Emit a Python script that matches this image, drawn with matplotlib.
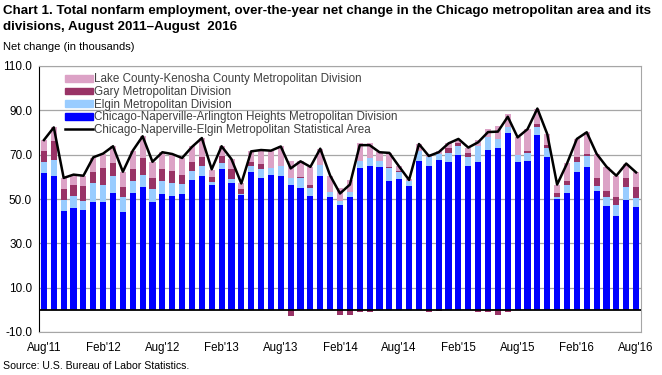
import matplotlib
matplotlib.use("Agg")
import matplotlib.pyplot as plt
import numpy as np
from matplotlib.patches import Patch
from matplotlib.lines import Line2D

plt.rcParams["font.family"] = ["Liberation Sans", "DejaVu Sans"]

# months Aug 2011 .. Aug 2016 (61 points)
months = ["Aug'11", "Sep'11", "Oct'11", "Nov'11", "Dec'11",
          "Jan'12", "Feb'12", "Mar'12", "Apr'12", "May'12", "Jun'12", "Jul'12",
          "Aug'12", "Sep'12", "Oct'12", "Nov'12", "Dec'12",
          "Jan'13", "Feb'13", "Mar'13", "Apr'13", "May'13", "Jun'13", "Jul'13",
          "Aug'13", "Sep'13", "Oct'13", "Nov'13", "Dec'13",
          "Jan'14", "Feb'14", "Mar'14", "Apr'14", "May'14", "Jun'14", "Jul'14",
          "Aug'14", "Sep'14", "Oct'14", "Nov'14", "Dec'14",
          "Jan'15", "Feb'15", "Mar'15", "Apr'15", "May'15", "Jun'15", "Jul'15",
          "Aug'15", "Sep'15", "Oct'15", "Nov'15", "Dec'15",
          "Jan'16", "Feb'16", "Mar'16", "Apr'16", "May'16", "Jun'16", "Jul'16",
          "Aug'16"]
tick_labels = ["Aug'11", "Feb'12", "Aug'12", "Feb'13", "Aug'13", "Feb'14",
               "Aug'14", "Feb'15", "Aug'15", "Feb'16", "Aug'16"]

chicago = [61.6, 60.5, 44.4, 45.8, 45.0, 48.5, 48.5, 52.6, 44.0, 52.6, 55.6, 48.8,
           52.3, 51.5, 52.2, 58.7, 60.5, 56.5, 63.5, 57.1, 51.7, 62.0, 59.3, 61.0,
           60.2, 56.3, 55.0, 51.2, 60.6, 51.1, 47.2, 51.1, 63.8, 64.7, 64.3, 58.0,
           59.2, 55.8, 67.3, 65.1, 67.7, 66.5, 70.0, 65.0, 66.8, 72.3, 72.9, 79.8,
           66.9, 67.3, 79.0, 68.8, 49.8, 52.9, 62.0, 64.3, 53.5, 47.0, 42.5, 49.7,
           46.5]
elgin = [5.2, 7.2, 5.3, 5.7, 4.2, 8.6, 8.0, 7.9, 6.8, 5.7, 5.4, 5.7,
         6.0, 5.6, 4.6, 4.1, 4.5, 1.0, 2.6, 1.9, 0.5, 2.7, 4.2, 2.8,
         4.5, 3.0, 4.3, 3.9, 4.6, 1.9, 1.8, 1.9, 3.5, 3.6, 3.0, 6.0,
         3.0, 2.5, 4.5, 3.7, 2.6, 4.1, 4.1, 3.8, 7.3, 5.5, 4.2, 2.5,
         3.1, 3.6, 3.6, 4.2, 1.0, 3.6, 4.8, 4.9, 2.5, 4.1, 4.8, 5.6,
         3.8]
gary = [5.0, 8.3, 4.8, 5.0, 6.8, 5.2, 7.3, 5.6, 4.8, 5.2, 7.5, 5.0,
        5.2, 5.7, 4.2, 3.7, 4.1, 2.3, 3.4, 4.5, 2.5, 2.1, 2.3, 0.3,
        0.4, -3.0, 0.8, 1.2, 0.2, 0.0, -2.5, -2.5, -1.2, -1.2, 0.0, 0.6,
        0.3, 0.0, 0.0, -0.9, -0.6, 2.3, 1.0, 1.8, -1.2, -1.2, -2.5, -1.2,
        0.0, 0.8, 1.1, 1.5, 1.8, 1.5, 2.0, 1.1, 3.5, 2.7, 3.8, 4.0,
        5.3]
lake = [4.8, 6.3, 5.0, 4.5, 4.5, 6.3, 6.6, 7.7, 6.7, 8.3, 9.9, 7.3,
        7.6, 7.3, 7.5, 7.2, 8.4, 3.5, 4.4, 4.5, 2.6, 4.7, 6.3, 7.7,
        8.6, 7.8, 6.9, 8.2, 7.3, 7.6, 6.0, 5.7, 8.0, 7.0, 3.8, 6.2,
        2.2, 0.5, 3.0, 1.5, 1.4, 2.2, 2.0, 2.6, 2.7, 3.8, 6.0, 6.0,
        7.8, 10.0, 7.1, 4.8, 3.9, 8.2, 8.4, 9.8, 11.0, 10.8, 9.4, 6.6,
        6.4]
msa = [76.6, 82.3, 59.5, 61.0, 60.5, 68.8, 70.5, 73.8, 62.3, 71.8, 78.3, 66.8,
       71.1, 70.3, 68.5, 73.5, 77.5, 63.4, 73.8, 68.0, 57.0, 71.5, 72.1, 71.8,
       73.7, 63.8, 67.0, 64.5, 72.7, 60.6, 52.5, 56.5, 74.3, 74.3, 71.1, 70.8,
       64.6, 58.6, 74.8, 69.4, 71.1, 75.1, 77.1, 73.2, 75.6, 80.2, 80.4, 87.1,
       77.8, 81.5, 90.8, 79.3, 56.5, 66.0, 77.1, 80.1, 70.4, 64.6, 60.5, 66.0,
       62.0]

C_CHI = "#0000FF"
C_ELG = "#99CCFF"
C_GARY = "#993366"
C_LAKE = "#DCA2C6"


def draw(ax):
    x = np.arange(len(months))
    chi = np.array(chicago)
    elg = np.array(elgin)
    gry = np.array(gary)
    lk = np.array(lake)
    w = 0.62
    ax.bar(x, chi, w, color=C_CHI, zorder=2)
    ax.bar(x, elg, w, bottom=chi, color=C_ELG, zorder=2)
    # negative Gary values hang below the zero line, like the original chart
    gary_bottom = np.where(gry >= 0, chi + elg, 0)
    ax.bar(x, gry, w, bottom=gary_bottom, color=C_GARY, zorder=2)
    ax.bar(x, lk, w, bottom=chi + elg + np.clip(gry, 0, None), color=C_LAKE, zorder=2)
    ax.plot(x, msa, color="black", lw=1.8, zorder=3)
    ax.axhline(0, color="black", lw=1.3, zorder=4)

    ax.set_xlim(-0.5, len(months) - 0.5)
    ax.set_ylim(-10, 110)
    ticks = np.arange(-10, 111, 20)
    ax.set_yticks(ticks)
    ax.set_yticklabels([f"{v:.1f}" for v in ticks], fontsize=8.5)
    ax.set_xticks([months.index(t) for t in tick_labels])
    ax.set_xticklabels(tick_labels, fontsize=8.3)
    ax.tick_params(axis="y", length=0, pad=5)
    ax.tick_params(axis="x", length=0, pad=7)
    ax.yaxis.grid(True, color="#A6A6A6", lw=0.9, zorder=0)
    for s in ("top", "right", "bottom"):
        ax.spines[s].set_color("#A6A6A6")
    ax.spines["left"].set_color("black")

    handles = [Patch(color=C_LAKE), Patch(color=C_GARY), Patch(color=C_ELG),
               Patch(color=C_CHI), Line2D([], [], color="black", lw=1.8)]
    names = ["Lake County-Kenosha County Metropolitan Division",
             "Gary Metropolitan Division",
             "Elgin Metropolitan Division",
             "Chicago-Naperville-Arlington Heights Metropolitan Division",
             "Chicago-Naperville-Elgin Metropolitan Statistical Area"]
    leg = ax.legend(handles, names, loc="upper left", bbox_to_anchor=(0.035, 0.99),
                    frameon=False, fontsize=8.4, handlelength=2.4, handleheight=0.5,
                    handletextpad=0.15, labelspacing=0.06, borderaxespad=0)
    for t in leg.get_texts():
        t.set_color("#404040")


def main():
    fig = plt.figure(figsize=(6.62, 3.75), dpi=100)
    ax = fig.add_axes([39 / 662, 1 - 332 / 375, 602 / 662, 266 / 375])
    draw(ax)
    fig.text(0.005, 1 - 5 / 375,
             "Chart 1. Total nonfarm employment, over-the-year net change in the Chicago metropolitan area and its\n"
             "divisions, August 2011\u2013August  2016",
             ha="left", va="top", fontsize=9.6, fontweight="bold", linespacing=1.45)
    fig.text(0.005, 1 - 47 / 375, "Net change (in thousands)", ha="left", va="center", fontsize=8)
    fig.text(0.005, 1 - 366 / 375, "Source: U.S. Bureau of Labor Statistics.",
             ha="left", va="center", fontsize=7.6)
    fig.savefig("out.png", dpi=100)


if __name__ == "__main__":
    main()
